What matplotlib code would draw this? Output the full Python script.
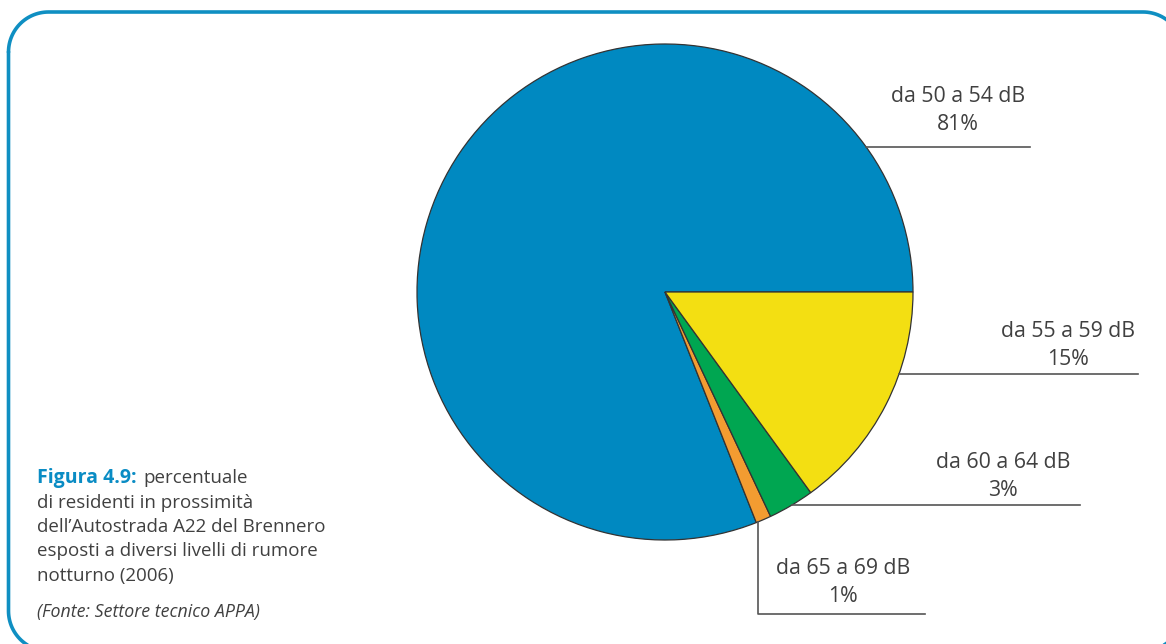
import numpy as np
import matplotlib
matplotlib.use("Agg")
import matplotlib.pyplot as plt

# --- data ---
labels = ["da 50 a 54 dB", "da 65 a 69 dB", "da 60 a 64 dB", "da 55 a 59 dB"]
shares = [81, 1, 3, 15]
colors = ["#0089c1", "#f39c31", "#00a651", "#f3df12"]

W, H = 1166, 644
C_TEXT = "#404040"
C_LINE = "#555555"
C_BORDER = "#0f8fc2"

plt.rcParams["font.family"] = ["Open Sans", "DejaVu Sans"]

fig = plt.figure(figsize=(W / 100, H / 100), dpi=100)
ax = fig.add_axes([0, 0, 1, 1])

cx, cy, R = 665, H - 292, 248
ax.pie(shares, colors=colors, startangle=0, counterclock=True,
       center=(cx, cy), radius=R, frame=True,
       wedgeprops={"edgecolor": "#333333", "linewidth": 0.9})
ax.set_xlim(0, W)
ax.set_ylim(0, H)
ax.set_aspect("equal")
ax.axis("off")


def rounded_rect(x0, y0, x1, y1, r, n=30):
    # corners: top-left, top-right, bottom-right, bottom-left (y up)
    pts = []
    for (ccx, ccy, a0) in [(x0 + r, y1 - r, 180), (x1 - r, y1 - r, 90),
                           (x1 - r, y0 + r, 0), (x0 + r, y0 + r, 270)]:
        a = np.radians(np.linspace(a0, a0 - 90, n))
        pts.append(np.column_stack([ccx + r * np.cos(a), ccy + r * np.sin(a)]))
    pts = np.vstack(pts + [pts[0][:1]])
    return pts[:, 0], pts[:, 1]


bx, by = rounded_rect(8.5, H - 651, 1183, H - 12, 40)
ax.plot(bx, by, color=C_BORDER, lw=2.6, solid_capstyle="round")


def edge_x(y):
    return cx + np.sqrt(R ** 2 - (y - cy) ** 2)


# label layout: (leader y px, line end x, text centre x, gap baseline->line)
lab_pos = {
    "da 50 a 54 dB": (147, 1030, 958, 17),
    "da 55 a 59 dB": (374, 1138, 1068, 9),
    "da 60 a 64 dB": (505, 1080, 1003, 9),
    "da 65 a 69 dB": (614, 925, 843, 12),
}
FS = 15.3
for lab, val in zip(labels, shares):
    yl, xe, xt, gap = lab_pos[lab]
    y = H - yl
    if lab == "da 65 a 69 dB":
        xv = 758
        ytop = cy - np.sqrt(R ** 2 - (xv - cx) ** 2)
        ax.plot([xv, xv, xe], [ytop, y, y], color=C_LINE, lw=1.2)
    else:
        ax.plot([edge_x(y), xe], [y, y], color=C_LINE, lw=1.2)
    ax.text(xt, y + gap, f"{val}%", ha="center", va="baseline",
            fontsize=FS, color=C_TEXT)
    ax.text(xt, y + gap + 28, lab, ha="center", va="baseline",
            fontsize=FS, color=C_TEXT)

# caption
cap_x = 37
ax.text(cap_x, H - 483, "Figura 4.9:", fontsize=14, fontweight="bold",
        color="#0a8cc4", ha="left", va="baseline")
ax.text(143, H - 483, "percentuale", fontsize=13.5, color=C_TEXT,
        ha="left", va="baseline")
cap_lines = ["di residenti in prossimità",
             "dell’Autostrada A22 del Brennero",
             "esposti a diversi livelli di rumore",
             "notturno (2006)"]
for i, t in enumerate(cap_lines):
    ax.text(cap_x, H - 507.5 - 24.5 * i, t, fontsize=13.5, color=C_TEXT,
            ha="left", va="baseline")
ax.text(cap_x, H - 617, "(Fonte: Settore tecnico APPA)", fontsize=12.8,
        style="italic", color=C_TEXT, ha="left", va="baseline")

fig.savefig("out.png", dpi=100)
